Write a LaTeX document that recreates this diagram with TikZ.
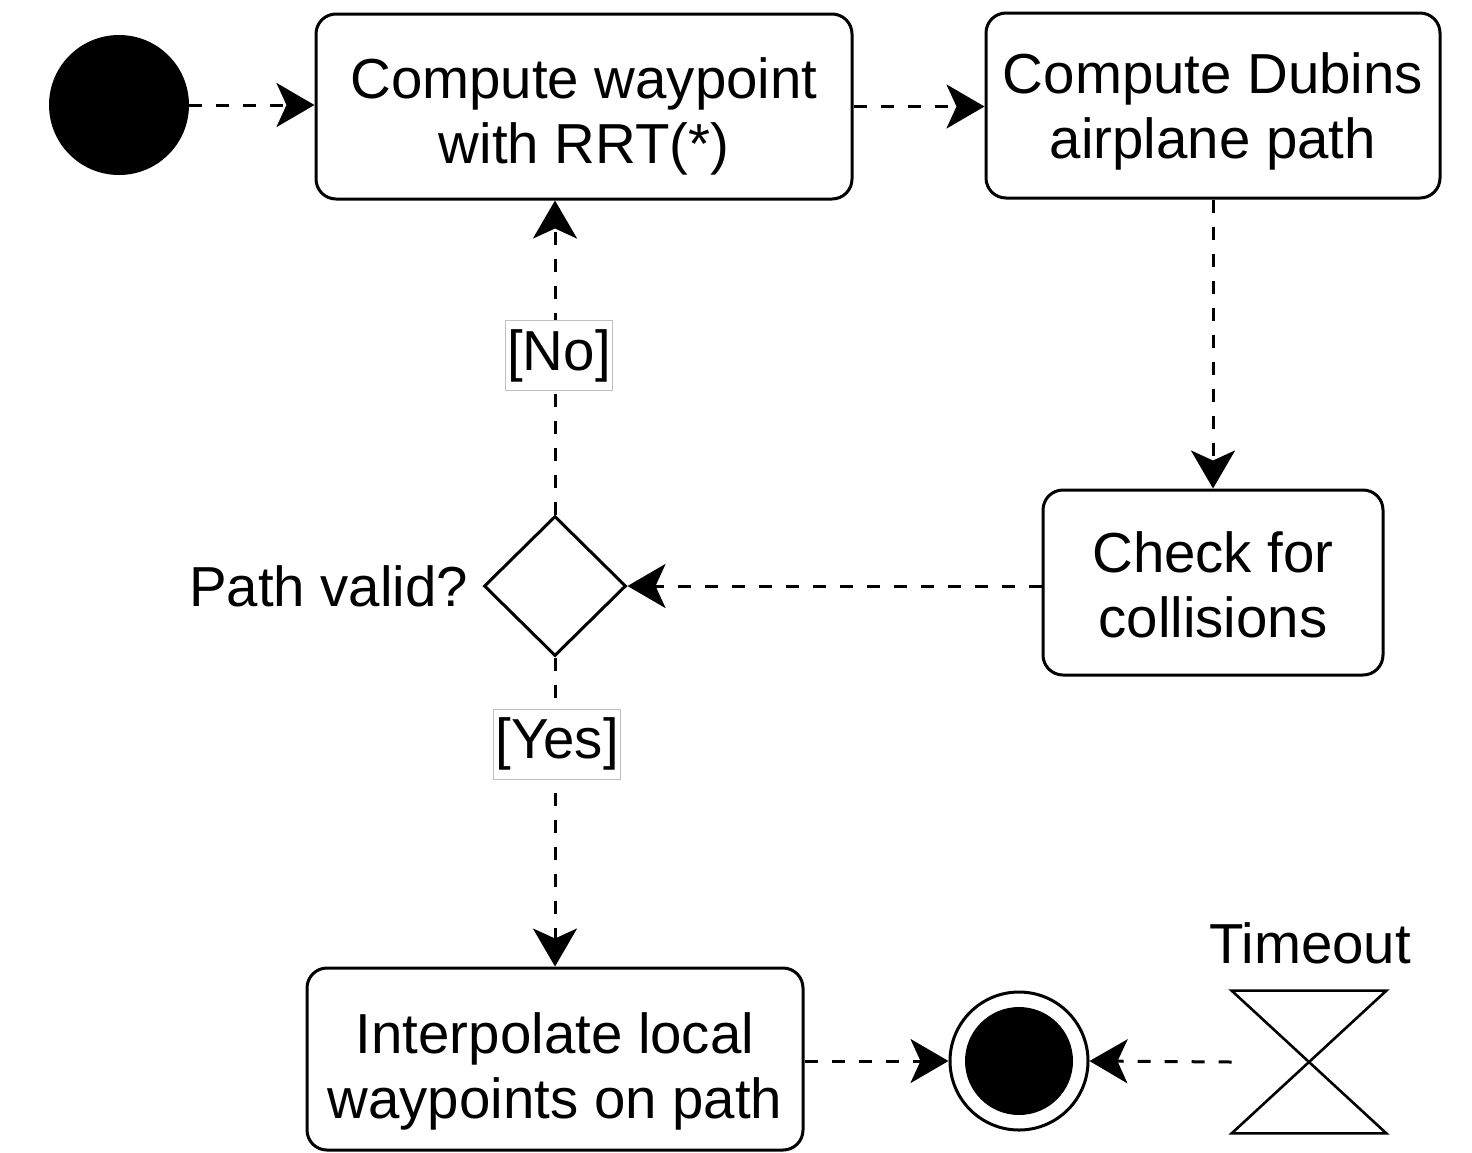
\documentclass[tikz,border=0pt]{standalone}
\usepackage{fontspec}
\setmainfont{Liberation Sans}
\usetikzlibrary{arrows.meta,shapes.geometric}
\begin{document}
\begin{tikzpicture}[x=0.5pt,y=-0.5pt,
  every node/.style={font=\fontsize{28.2pt}{32.5pt}\selectfont},
  action/.style={draw,line width=1.5pt,rounded corners=10pt,inner sep=0pt},
  caption/.style={align=center,inner sep=0pt},
  flow/.style={line width=1.5pt,dash pattern=on 6.5pt off 7pt,
    -{Stealth[length=19pt,width=22pt,inset=5pt]}},
  guard/.style={fill=white,draw=black!25,solid,line width=0.5pt,
    inner xsep=1pt,inner ysep=0pt,minimum height=35pt},
]
\useasboundingbox (0,0) rectangle (1472,1152);

% initial and final states
\node[circle,fill=black,inner sep=0pt,minimum size=70pt] (init) at (119,105) {};
\node[circle,draw,line width=1.5pt,inner sep=0pt,minimum size=69pt] (final) at (1019,1061) {};
\node[circle,fill=black,inner sep=0pt,minimum size=54pt] (finaldot) at (final) {};

% actions
\node[action,minimum width=268pt,minimum height=92.5pt] (rrt) at (584,106.5) {};
\node[caption] (rrttext) at ([yshift=-5pt]rrt.center) {Compute waypoint\\with RRT(*)};
\node[action,minimum width=227pt,minimum height=92.5pt] (dubins) at (1213,105.5) {};
\node[caption] (dubinstext) at ([yshift=-3pt]dubins.center) {Compute Dubins\\airplane path};
\node[action,minimum width=170pt,minimum height=92.5pt] (check) at (1213,582.5) {};
\node[caption] (checktext) at ([yshift=-1pt]check.center) {Check for\\collisions};
\node[action,minimum width=248pt,minimum height=91pt] (interp) at (555,1059) {};
\node[caption] (interptext) at ([yshift=-6pt]interp.center) {Interpolate local\\waypoints on path};

% decision
\node[diamond,draw,line width=1.5pt,inner sep=0pt,minimum width=71pt,minimum height=70pt] (valid) at (555,586) {};
\node[anchor=east,inner sep=0pt] (validlabel) at ([xshift=-7pt]valid.west) {Path valid?};

% timeout event (hourglass)
\node[inner sep=0pt,minimum width=77pt,minimum height=71pt] (timer) at (1309,1062) {};
\draw[line width=1.3pt,line join=miter]
  (timer.north west) -- (timer.north east) -- (timer.south west) -- (timer.south east) -- cycle;
\node (timerlabel) at (1310,943) {Timeout};

% control flow
\draw[flow] (init.east) -- (init.east -| rrt.west);
\draw[flow] (rrt.east) -- (rrt.east -| dubins.west);
\draw[flow] (dubins.south) -- (check.north);
\draw[flow] (valid.east -| check.west) -- (valid.east);
\draw[flow] (valid.north) -- node[guard,pos=0.505,xshift=2pt] {[No]} (valid.north |- rrt.south);
\draw[flow] (valid.south) -- node[guard,pos=0.28,xshift=1pt] {[Yes]} (interp.north);
\draw[flow] (final.west -| interp.east) -- (final.west);
\draw[flow] (timer.west) -- (final.east);
\end{tikzpicture}
\end{document}
